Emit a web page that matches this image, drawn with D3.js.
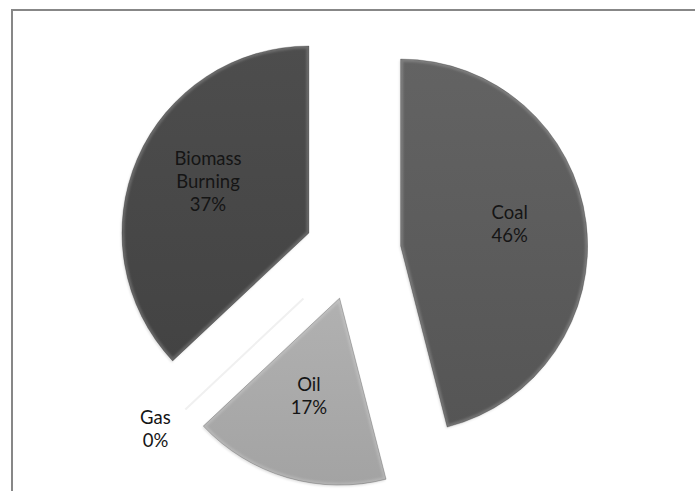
<!DOCTYPE html>
<html>
<head>
<meta charset="utf-8">
<script src="https://cdn.jsdelivr.net/npm/d3@7"></script>
<style>
  html, body { margin: 0; padding: 0; background: #fff; }
  svg { display: block; }
  .lbl { font-family: Lato, "Open Sans", sans-serif; font-size: 18.5px; fill: #151515; }
</style>
</head>
<body>
<div id="chart"></div>
<script>
// values (percent)
const categories = ["Coal", "Oil", "Gas", "Biomass Burning"];
const shares = [46, 17, 0, 37];
const labelLines = [["Coal"], ["Oil"], ["Gas"], ["Biomass", "Burning"]];
const fills = [["#636363", "#555555"], ["#b1b1b1", "#a3a3a3"], ["#cccccc", "#cccccc"], ["#4d4d4d", "#434343"]];

const width = 695, height = 491;
const cx = 353, cy = 252, radius = 187, explode = 48;

const svg = d3.select("#chart").append("svg")
    .attr("width", width)
    .attr("height", height);

const defs = svg.append("defs");
fills.forEach((f, i) => {
    const g = defs.append("linearGradient")
        .attr("id", "grad" + i)
        .attr("x1", 0).attr("y1", 0).attr("x2", 0).attr("y2", 1);
    g.append("stop").attr("offset", "0%").attr("stop-color", f[0]);
    g.append("stop").attr("offset", "100%").attr("stop-color", f[1]);
});
defs.append("filter").attr("id", "soft")
    .append("feGaussianBlur").attr("stdDeviation", 1.2);

// chart border (cropped at right/bottom in the reference)
svg.append("path")
    .attr("d", `M12,${height} L12,10 L${width},10`)
    .attr("fill", "none")
    .attr("stroke", "#878787")
    .attr("stroke-width", 2);

const pie = d3.pie().sort(null).value(d => d);
const arcs = pie(shares);
const arc = d3.arc().innerRadius(0).outerRadius(radius);

const g = svg.append("g").attr("transform", `translate(${cx},${cy})`);

function offset(d, dist) {
    const a = (d.startAngle + d.endAngle) / 2;
    return [Math.sin(a) * dist, -Math.cos(a) * dist];
}

const slices = g.selectAll(".slice")
    .data(arcs)
    .enter().append("g")
    .attr("class", "slice")
    .attr("transform", d => `translate(${offset(d, explode)})`);

slices.each(function(d, i) {
    const s = d3.select(this);
    if (d.value === 0) {
        // zero slice leaves only a faint edge
        const [x0, y0] = offset(d, 20);
        const [x1, y1] = offset(d, radius - 5);
        s.append("line")
            .attr("x1", x0).attr("y1", y0).attr("x2", x1).attr("y2", y1)
            .attr("stroke", "#f0f0f0").attr("stroke-width", 2);
        return;
    }
    const path = arc(d);
    defs.append("clipPath").attr("id", "clip" + i).append("path").attr("d", path);
    // faint drop shadow
    s.append("path")
        .attr("d", path)
        .attr("fill", "#000")
        .attr("fill-opacity", 0.12)
        .attr("transform", "translate(-1,1.5)")
        .attr("filter", "url(#soft)");
    s.append("path")
        .attr("d", path)
        .attr("fill", `url(#grad${i})`);
    // soft bevel: light inner edge then dark rim
    s.append("g")
        .attr("clip-path", `url(#clip${i})`)
        .append("path")
        .attr("d", path)
        .attr("fill", "none")
        .attr("stroke", "#ffffff")
        .attr("stroke-opacity", 0.18)
        .attr("stroke-width", 5)
        .attr("filter", "url(#soft)");
    s.append("path")
        .attr("d", path)
        .attr("fill", "none")
        .attr("stroke", "#000")
        .attr("stroke-opacity", 0.2)
        .attr("stroke-width", 1);
});

// labels
const lineH = 23;
slices.each(function(d, i) {
    const s = d3.select(this);
    const lines = labelLines[i].concat([d.value + "%"]);
    const [lx, ly] = d.value === 0 ? offset(d, radius + 36) : offset(d, 110);
    const y0 = ly - 8 - (lines.length - 1) * lineH / 2;
    const t = s.append("text")
        .attr("class", "lbl")
        .attr("text-anchor", "middle");
    lines.forEach((ln, k) => {
        t.append("tspan")
            .attr("x", lx)
            .attr("y", y0 + k * lineH)
            .attr("dy", "0.35em")
            .text(ln);
    });
});
</script>
</body>
</html>
